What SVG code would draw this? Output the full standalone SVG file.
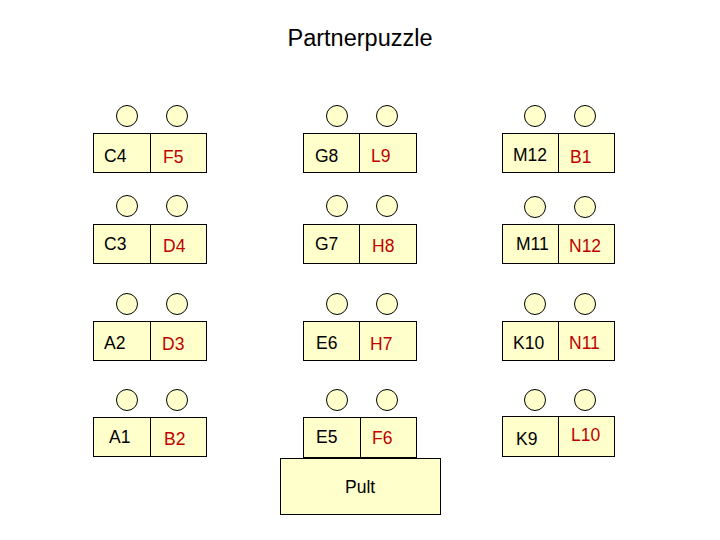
<svg xmlns="http://www.w3.org/2000/svg" width="720" height="540" viewBox="0 0 720 540">
<style>
.box{fill:#FFFFCC;stroke:#000;stroke-width:1}
.seat{fill:#FFFFCC;stroke:#000;stroke-width:1}
.t{font-family:"Liberation Sans",Arial,sans-serif;font-size:17.5px;fill:#000}
.r{font-family:"Liberation Sans",Arial,sans-serif;font-size:17.5px;fill:#C00000}
.title{font-family:"Liberation Sans",Arial,sans-serif;font-size:23.5px;fill:#000}
</style>
<rect width="720" height="540" fill="#fff"/>
<text class="title" x="360" y="46" text-anchor="middle">Partnerpuzzle</text>

<g id="table-c4-f5">
<circle class="seat" cx="127" cy="116" r="10.5"/><circle class="seat" cx="177" cy="116" r="10.5"/>
<rect class="box" x="93.5" y="133.5" width="113" height="39"/><line x1="150.5" y1="133.5" x2="150.5" y2="172.5" stroke="#000"/>
<text class="t" x="104" y="162">C4</text><text class="r" x="163" y="163">F5</text>
</g>
<g id="table-g8-l9">
<circle class="seat" cx="337" cy="116" r="10.5"/><circle class="seat" cx="387" cy="116" r="10.5"/>
<rect class="box" x="303.5" y="133.5" width="113" height="39"/><line x1="359.5" y1="133.5" x2="359.5" y2="172.5" stroke="#000"/>
<text class="t" x="315" y="162">G8</text><text class="r" x="371" y="162">L9</text>
</g>
<g id="table-m12-b1">
<circle class="seat" cx="535" cy="116" r="10.5"/><circle class="seat" cx="585" cy="116" r="10.5"/>
<rect class="box" x="502.5" y="133.5" width="112" height="39"/><line x1="558.5" y1="133.5" x2="558.5" y2="172.5" stroke="#000"/>
<text class="t" x="513" y="161">M12</text><text class="r" x="570" y="163">B1</text>
</g>

<g id="table-c3-d4">
<circle class="seat" cx="127" cy="206" r="10.5"/><circle class="seat" cx="177" cy="206" r="10.5"/>
<rect class="box" x="93.5" y="224.5" width="113" height="39"/><line x1="150.5" y1="224.5" x2="150.5" y2="263.5" stroke="#000"/>
<text class="t" x="104" y="250">C3</text><text class="r" x="163" y="252">D4</text>
</g>
<g id="table-g7-h8">
<circle class="seat" cx="337" cy="206" r="10.5"/><circle class="seat" cx="387" cy="206" r="10.5"/>
<rect class="box" x="303.5" y="224.5" width="113" height="39"/><line x1="359.5" y1="224.5" x2="359.5" y2="263.5" stroke="#000"/>
<text class="t" x="315" y="250">G7</text><text class="r" x="372" y="252">H8</text>
</g>
<g id="table-m11-n12">
<circle class="seat" cx="535" cy="207" r="10.5"/><circle class="seat" cx="585" cy="207" r="10.5"/>
<rect class="box" x="502.5" y="224.5" width="112" height="39"/><line x1="558.5" y1="224.5" x2="558.5" y2="263.5" stroke="#000"/>
<text class="t" x="516" y="250">M11</text><text class="r" x="569" y="252">N12</text>
</g>

<g id="table-a2-d3">
<circle class="seat" cx="127" cy="304" r="10.5"/><circle class="seat" cx="177" cy="304" r="10.5"/>
<rect class="box" x="93.5" y="321.5" width="113" height="39"/><line x1="150.5" y1="321.5" x2="150.5" y2="360.5" stroke="#000"/>
<text class="t" x="104" y="349">A2</text><text class="r" x="162" y="350">D3</text>
</g>
<g id="table-e6-h7">
<circle class="seat" cx="337" cy="304" r="10.5"/><circle class="seat" cx="387" cy="304" r="10.5"/>
<rect class="box" x="303.5" y="321.5" width="113" height="39"/><line x1="359.5" y1="321.5" x2="359.5" y2="360.5" stroke="#000"/>
<text class="t" x="316" y="349">E6</text><text class="r" x="370" y="350">H7</text>
</g>
<g id="table-k10-n11">
<circle class="seat" cx="535" cy="304" r="10.5"/><circle class="seat" cx="585" cy="304" r="10.5"/>
<rect class="box" x="502.5" y="321.5" width="112" height="39"/><line x1="558.5" y1="321.5" x2="558.5" y2="360.5" stroke="#000"/>
<text class="t" x="513" y="349">K10</text><text class="r" x="569" y="349">N11</text>
</g>

<g id="table-a1-b2">
<circle class="seat" cx="127" cy="400" r="10.5"/><circle class="seat" cx="177" cy="400" r="10.5"/>
<rect class="box" x="93.5" y="417.5" width="113" height="39"/><line x1="150.5" y1="417.5" x2="150.5" y2="456.5" stroke="#000"/>
<text class="t" x="109" y="443">A1</text><text class="r" x="164" y="445">B2</text>
</g>
<g id="table-e5-f6">
<circle class="seat" cx="337" cy="400" r="10.5"/><circle class="seat" cx="387" cy="400" r="10.5"/>
<rect class="box" x="303.5" y="417.5" width="113" height="40"/><line x1="360.5" y1="417.5" x2="360.5" y2="457.5" stroke="#000"/>
<text class="t" x="316" y="443">E5</text><text class="r" x="372" y="444">F6</text>
</g>
<g id="table-k9-l10">
<circle class="seat" cx="535" cy="400" r="10.5"/><circle class="seat" cx="585" cy="400" r="10.5"/>
<rect class="box" x="502.5" y="416.5" width="112" height="40"/><line x1="558.5" y1="416.5" x2="558.5" y2="456.5" stroke="#000"/>
<text class="t" x="516" y="445">K9</text><text class="r" x="571" y="441">L10</text>
</g>

<g id="pult">
<rect class="box" x="280.5" y="458.5" width="160" height="56"/>
<text class="t" x="345" y="493">Pult</text>
</g>
</svg>
